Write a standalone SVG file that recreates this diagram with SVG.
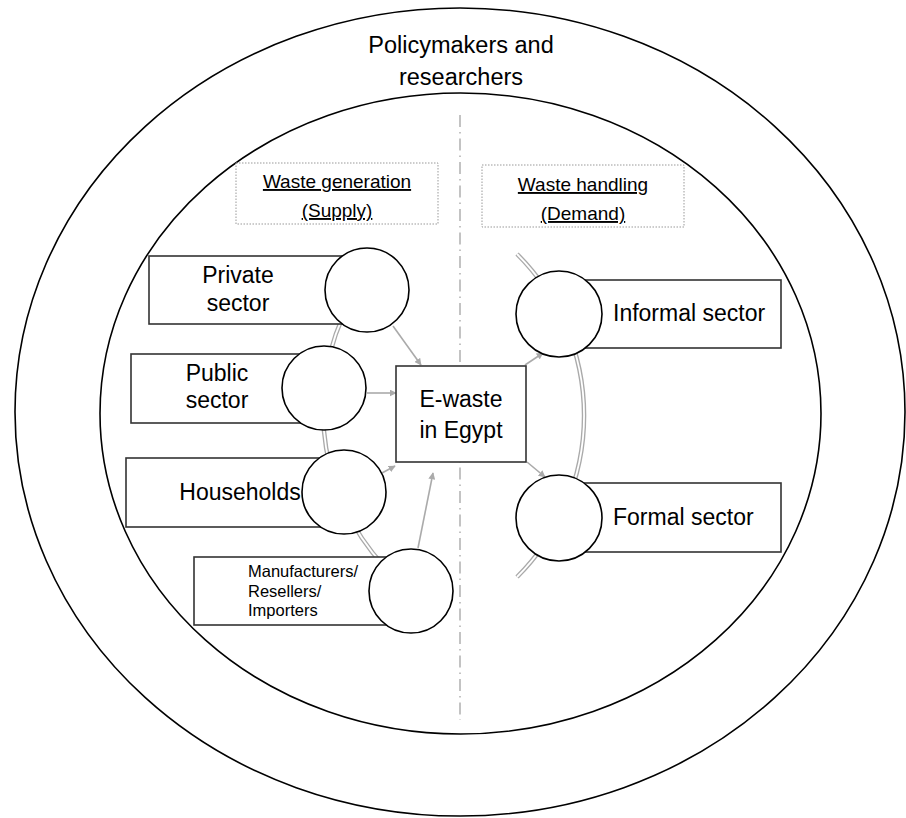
<svg xmlns="http://www.w3.org/2000/svg" width="906" height="818" viewBox="0 0 906 818">
<style>
text{font-family:"Liberation Sans",Arial,sans-serif;fill:#000}
.big{font-size:23px}
.top{font-size:23.5px}
.hdr{font-size:19px;text-decoration:underline}
.small{font-size:16.5px}
.ring{fill:none;stroke:#000;stroke-width:1.6}
.box{fill:#fff;stroke:#333;stroke-width:1.6}
.circ{fill:#fff;stroke:#000;stroke-width:1.6}
.dot{fill:none;stroke:#999;stroke-width:1;stroke-dasharray:1.5 1.5}
.arcO{fill:none;stroke:#aaa;stroke-width:4.5}
.arcI{fill:none;stroke:#fff;stroke-width:1.8}
.arr{fill:none;stroke:#aaa;stroke-width:1.6;marker-end:url(#ah)}
</style>
<defs>
<marker id="ah" viewBox="0 0 10 10" refX="9" refY="5" markerWidth="7" markerHeight="7" markerUnits="userSpaceOnUse" orient="auto">
<path d="M0,0 L10,5 L0,10 z" fill="#aaa"/>
</marker>
</defs>
<rect width="906" height="818" fill="#fff"/>
<g id="outer">
<ellipse class="ring" cx="460" cy="412" rx="445" ry="404"/>
<text class="top" x="461" y="53" text-anchor="middle">Policymakers and</text>
<text class="top" x="461" y="85" text-anchor="middle">researchers</text>
</g>
<g id="inner">
<ellipse class="ring" cx="460.5" cy="413.5" rx="360.5" ry="320.5"/>
</g>
<g id="divider">
<line x1="460" y1="115" x2="460" y2="720" stroke="#aaa" stroke-width="1.4" stroke-dasharray="12 5 1.5 5"/>
</g>
<g id="supply-label">
<rect class="dot" x="236" y="163" width="202" height="61"/>
<text class="hdr" x="337" y="188" text-anchor="middle">Waste generation</text>
<text class="hdr" x="337" y="217" text-anchor="middle">(Supply)</text>
</g>
<g id="demand-label">
<rect class="dot" x="482" y="165" width="202" height="62"/>
<text class="hdr" x="583" y="191" text-anchor="middle">Waste handling</text>
<text class="hdr" x="583" y="220" text-anchor="middle">(Demand)</text>
</g>
<g id="connectors">
<path class="arcO" d="M351,300 A230,230 0 0,0 398,580"/>
<path class="arcI" d="M351,300 A230,230 0 0,0 398,580"/>
<path class="arcO" d="M517,254 A228,228 0 0,1 517,577"/>
<path class="arcI" d="M517,254 A228,228 0 0,1 517,577"/>
<line class="arr" x1="393" y1="326" x2="421" y2="365"/>
<line class="arr" x1="367" y1="393" x2="396" y2="393"/>
<line class="arr" x1="382" y1="473" x2="395" y2="466"/>
<line class="arr" x1="418" y1="548" x2="433" y2="473"/>
<line class="arr" x1="525" y1="365" x2="543" y2="353"/>
<line class="arr" x1="527" y1="462" x2="545" y2="477"/>
</g>
<g id="private">
<rect class="box" x="149" y="256" width="218" height="68"/>
<circle class="circ" cx="367" cy="290" r="42"/>
<text class="big" x="238" y="283" text-anchor="middle">Private</text>
<text class="big" x="238" y="311" text-anchor="middle">sector</text>
</g>
<g id="public">
<rect class="box" x="131" y="354" width="193" height="69"/>
<circle class="circ" cx="324" cy="388" r="42"/>
<text class="big" x="217" y="381" text-anchor="middle">Public</text>
<text class="big" x="217" y="408" text-anchor="middle">sector</text>
</g>
<g id="households">
<rect class="box" x="126" y="458" width="218" height="69"/>
<circle class="circ" cx="344" cy="492" r="42"/>
<text class="big" x="240" y="500" text-anchor="middle">Households</text>
</g>
<g id="manufacturers">
<rect class="box" x="194" y="557" width="217" height="68"/>
<circle class="circ" cx="411" cy="591" r="42"/>
<text class="small" x="248" y="577">Manufacturers/</text>
<text class="small" x="248" y="597">Resellers/</text>
<text class="small" x="248" y="616">Importers</text>
</g>
<g id="ewaste">
<rect class="box" x="396" y="366" width="130" height="96"/>
<text class="big" x="461" y="407" text-anchor="middle">E-waste</text>
<text class="big" x="461" y="438" text-anchor="middle">in Egypt</text>
</g>
<g id="informal">
<rect class="box" x="559" y="280" width="222" height="68"/>
<circle class="circ" cx="559" cy="314" r="43"/>
<text class="big" x="613" y="321">Informal sector</text>
</g>
<g id="formal">
<rect class="box" x="559" y="483" width="222" height="69"/>
<circle class="circ" cx="559" cy="518" r="43"/>
<text class="big" x="613" y="525">Formal sector</text>
</g>
</svg>
